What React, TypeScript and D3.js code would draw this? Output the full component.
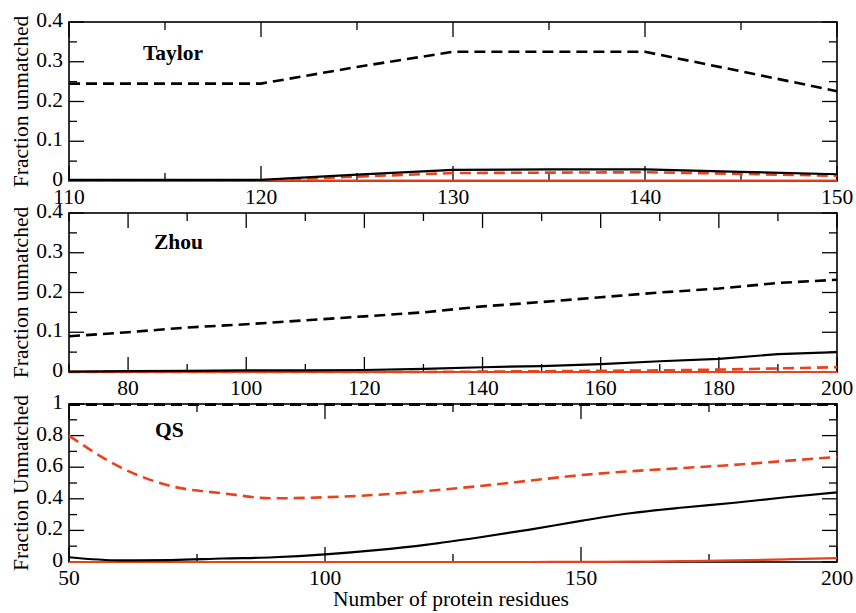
import React from "react";
import * as d3 from "d3";

// ---------- data ----------
const taylorX = [110, 115, 120, 125, 130, 135, 140, 145, 150];
const taylorBlackDashed = [0.245, 0.245, 0.245, 0.287, 0.325, 0.325, 0.325, 0.276, 0.226];
const taylorBlackSolid = [0.003, 0.003, 0.003, 0.016, 0.028, 0.029, 0.029, 0.023, 0.017];
const taylorRedDashed = [0.002, 0.002, 0.002, 0.011, 0.02, 0.021, 0.022, 0.018, 0.013];
const taylorRedSolid = [0.001, 0.001, 0.001, 0.001, 0.001, 0.001, 0.001, 0.001, 0.001];

const zhouX = [70, 80, 90, 100, 110, 120, 130, 140, 150, 160, 170, 180, 190, 200];
const zhouBlackDashed = [0.09, 0.1, 0.112, 0.12, 0.13, 0.14, 0.15, 0.165, 0.176, 0.188, 0.2, 0.21, 0.224, 0.232];
const zhouBlackSolid = [0.001, 0.002, 0.003, 0.004, 0.004, 0.005, 0.008, 0.012, 0.015, 0.02, 0.027, 0.033, 0.045, 0.05];
const zhouRedDashed = [0, 0, 0, 0, 0, 0, 0, 0.001, 0.002, 0.003, 0.004, 0.006, 0.009, 0.012];
const zhouRedSolid = [0, 0, 0, 0, 0, 0, 0, 0, 0, 0, 0, 0, 0, 0];

const qsX = [50, 60, 70, 80, 90, 100, 110, 120, 130, 140, 150, 160, 170, 180, 190, 200];
const qsBlackDashed = [0.996, 0.996, 0.996, 0.996, 0.996, 0.996, 0.996, 0.996, 0.996, 0.996, 0.996, 0.996, 0.996, 0.996, 0.996, 0.996];
const qsRedDashed = [0.8, 0.6, 0.48, 0.435, 0.403, 0.41, 0.425, 0.45, 0.48, 0.515, 0.55, 0.575, 0.595, 0.615, 0.64, 0.665];
const qsBlackSolid = [0.03, 0.01, 0.012, 0.022, 0.03, 0.048, 0.075, 0.11, 0.155, 0.205, 0.26, 0.31, 0.345, 0.375, 0.41, 0.44];
const qsRedSolid = [0, 0, 0, 0, 0, 0, 0, 0, 0, 0, 0.001, 0.002, 0.005, 0.01, 0.017, 0.025];

const taylorXTicks = [110, 120, 130, 140, 150];
const zhouXTicks = [80, 100, 120, 140, 160, 180, 200];
const qsXTicks = [50, 100, 150, 200];
const smallYTicks = [0, 0.1, 0.2, 0.3, 0.4];
const smallYLabels = ["0", "0.1", "0.2", "0.3", "0.4"];
const qsYTicks = [0, 0.2, 0.4, 0.6, 0.8, 1];
const qsYLabels = ["0", "0.2", "0.4", "0.6", "0.8", "1"];

const panelTitles = ["Taylor", "Zhou", "QS"];
const yTitles = ["Fraction unmatched", "Fraction unmatched", "Fraction Unmatched"];
const xTitle = "Number of protein residues";

// ---------- styles ----------
const RED = "#e8421f";
const FONT = "'Liberation Serif', 'Times New Roman', Times, serif";
const FS = 21.5;
const LEFT = 69;
const RIGHT = 837;

type Series = { y: number[]; color: string; dashed: boolean };

const panels = [
  {
    top: 22, bottom: 181, xDomain: [110, 150], yDomain: [0, 0.4],
    xMajor: taylorXTicks, xMinorStep: 5, yMajor: smallYTicks, yLabels: smallYLabels, yMinorStep: 0.05,
    x: taylorX, curve: d3.curveLinear,
    series: [
      { y: taylorRedSolid, color: RED, dashed: false },
      { y: taylorRedDashed, color: RED, dashed: true },
      { y: taylorBlackSolid, color: "#000", dashed: false },
      { y: taylorBlackDashed, color: "#000", dashed: true },
    ] as Series[],
    title: panelTitles[0], titleX: 143, titleY: 60, yTitle: yTitles[0],
  },
  {
    top: 213, bottom: 372, xDomain: [70, 200], yDomain: [0, 0.4],
    xMajor: zhouXTicks, xMinorStep: 10, yMajor: smallYTicks, yLabels: smallYLabels, yMinorStep: 0.05,
    x: zhouX, curve: d3.curveLinear,
    series: [
      { y: zhouRedSolid, color: RED, dashed: false },
      { y: zhouRedDashed, color: RED, dashed: true },
      { y: zhouBlackSolid, color: "#000", dashed: false },
      { y: zhouBlackDashed, color: "#000", dashed: true },
    ] as Series[],
    title: panelTitles[1], titleX: 154, titleY: 249, yTitle: yTitles[1],
  },
  {
    top: 404, bottom: 562, xDomain: [50, 200], yDomain: [0, 1],
    xMajor: qsXTicks, xMinorStep: 25, yMajor: qsYTicks, yLabels: qsYLabels, yMinorStep: 0.1,
    x: qsX, curve: d3.curveMonotoneX,
    series: [
      { y: qsRedSolid, color: RED, dashed: false },
      { y: qsRedDashed, color: RED, dashed: true },
      { y: qsBlackSolid, color: "#000", dashed: false },
      { y: qsBlackDashed, color: "#000", dashed: true },
    ] as Series[],
    title: panelTitles[2], titleX: 155, titleY: 437, yTitle: yTitles[2],
  },
];

function range(a: number, b: number, step: number) {
  const out: number[] = [];
  for (let v = a; v <= b + 1e-9; v += step) out.push(+v.toFixed(6));
  return out;
}

function Panel({ p }: { p: (typeof panels)[number] }) {
  const xs = d3.scaleLinear().domain(p.xDomain).range([LEFT, RIGHT]);
  const ys = d3.scaleLinear().domain(p.yDomain).range([p.bottom, p.top]);
  const xMinor = range(p.xDomain[0], p.xDomain[1], p.xMinorStep).filter(
    (v) => !p.xMajor.some((m) => Math.abs(m - v) < 1e-6)
  );
  const yMinor = range(p.yDomain[0], p.yDomain[1], p.yMinorStep).filter(
    (v) => !p.yMajor.some((m) => Math.abs(m - v) < 1e-6)
  );
  const MAJ = 15, MIN = 8;
  const line = d3
    .line<number>()
    .x((_, i) => xs(p.x[i]))
    .y((d) => ys(d))
    .curve(p.curve);
  const midY = (p.top + p.bottom) / 2;
  const textStyle = { fontFamily: FONT, fontSize: FS };
  return (
    <g>
      <g stroke="#000" strokeWidth={1.3}>
        {p.xMajor.map((v) => (
          <g key={"xM" + v}>
            <line x1={xs(v)} x2={xs(v)} y1={p.bottom} y2={p.bottom - MAJ} />
            <line x1={xs(v)} x2={xs(v)} y1={p.top} y2={p.top + MAJ} />
          </g>
        ))}
        {xMinor.map((v) => (
          <g key={"xm" + v}>
            <line x1={xs(v)} x2={xs(v)} y1={p.bottom} y2={p.bottom - MIN} />
            <line x1={xs(v)} x2={xs(v)} y1={p.top} y2={p.top + MIN} />
          </g>
        ))}
        {p.yMajor.map((v) => (
          <g key={"yM" + v}>
            <line x1={LEFT} x2={LEFT + MAJ} y1={ys(v)} y2={ys(v)} />
            <line x1={RIGHT} x2={RIGHT - MAJ} y1={ys(v)} y2={ys(v)} />
          </g>
        ))}
        {yMinor.map((v) => (
          <g key={"ym" + v}>
            <line x1={LEFT} x2={LEFT + MIN} y1={ys(v)} y2={ys(v)} />
            <line x1={RIGHT} x2={RIGHT - MIN} y1={ys(v)} y2={ys(v)} />
          </g>
        ))}
      </g>
      <rect x={LEFT} y={p.top} width={RIGHT - LEFT} height={p.bottom - p.top} fill="none" stroke="#000" strokeWidth={1.6} />
      {p.series.map((s, i) => (
        <path
          key={i}
          d={line(s.y) || ""}
          fill="none"
          stroke={s.color}
          strokeWidth={s.dashed ? 2.6 : 2.2}
          strokeDasharray={s.dashed ? "11,6" : undefined}
        />
      ))}
      <g fill="#000">
        {p.xMajor.map((v) => (
          <text key={"xl" + v} x={xs(v)} y={p.bottom + 23} textAnchor="middle" style={textStyle}>
            {v}
          </text>
        ))}
        {p.yMajor.map((v, i) => (
          <text key={"yl" + v} x={63} y={ys(v) + 5} textAnchor="end" style={textStyle}>
            {p.yLabels[i]}
          </text>
        ))}
        <text transform={`translate(28,${midY}) rotate(-90)`} textAnchor="middle" style={textStyle}>
          {p.yTitle}
        </text>
      </g>
      <text x={p.titleX} y={p.titleY} style={{ fontFamily: FONT, fontSize: FS, fontWeight: "bold" }}>
        {p.title}
      </text>
    </g>
  );
}

export default function App() {
  return (
    <svg width={856} height={613} style={{ position: "absolute", left: 0, top: 0, background: "#fff" }}>
      <rect width={856} height={613} fill="#fff" />
      {panels.map((p, i) => (
        <Panel key={i} p={p} />
      ))}
      <text x={(LEFT + RIGHT) / 2 - 2} y={606} textAnchor="middle" style={{ fontFamily: FONT, fontSize: FS }}>
        {xTitle}
      </text>
    </svg>
  );
}
